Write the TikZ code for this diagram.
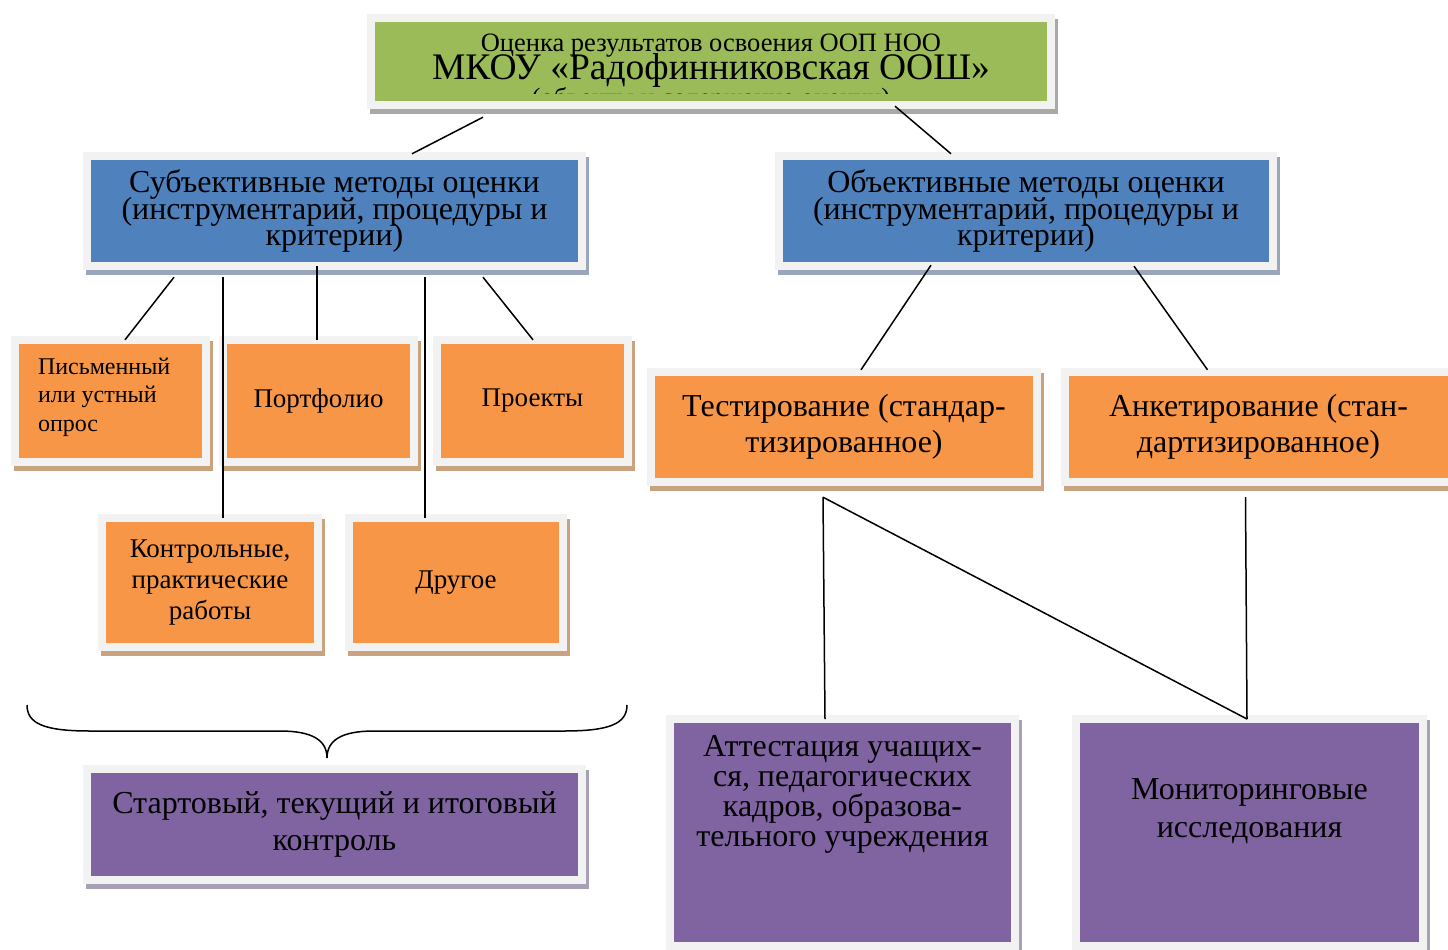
\documentclass[tikz,border=0pt]{standalone}
\usepackage{fontspec}
\setmainfont{Liberation Serif}

\definecolor{greenfill}{HTML}{9BBB59}
\definecolor{bluefill}{HTML}{4F81BD}
\definecolor{orangefill}{HTML}{F79646}
\definecolor{purplefill}{HTML}{8064A2}
\definecolor{framegray}{HTML}{F2F2F2}
\definecolor{greyshadow}{HTML}{A9AAA6}
\definecolor{blueshadow}{HTML}{9AA6BC}
\definecolor{orangeshadow}{HTML}{C9A27F}
\definecolor{purpleshadow}{HTML}{A8A0B4}

\newcommand\tightlines{\lineskiplimit=-100pt\relax}

\tikzset{
  panel/.style={rectangle, inner sep=0pt, align=center, text=black,
    preaction={fill=#1, draw=#1, line width=16pt, transform canvas={shift={(3pt,-5pt)}}},
    preaction={draw=framegray, line width=16pt}},
  greenbox/.style={panel=greyshadow, fill=greenfill},
  bluebox/.style={panel=blueshadow, fill=bluefill, minimum width=487pt, minimum height=102pt,
    font=\fontsize{32}{26.5}\selectfont\tightlines},
  orangebox/.style={panel=orangeshadow, fill=orangefill},
  purplebox/.style={panel=purpleshadow, fill=purplefill},
  smalltext/.style={font=\fontsize{27}{31}\selectfont},
  bigtext/.style={font=\fontsize{32}{36}\selectfont},
  link/.style={draw=black, line width=1.5pt}
}

\begin{document}
\begin{tikzpicture}[x=1pt,y=-1pt]

\useasboundingbox (0,0) rectangle (1448,950);

% top
\node[greenbox, minimum width=672pt, minimum height=79pt] (top) at (711,61.5) {};
\node[anchor=base, font=\fontsize{26.5}{26.5}\selectfont] (toptitle) at (711,52) {Оценка результатов освоения ООП НОО};
\node[anchor=base, font=\fontsize{37.5}{37.5}\selectfont] (topschool) at (711,80) {МКОУ «Радофинниковская ООШ»};
\begin{scope}
\clip (375,82) rectangle (1047,93);
\node[anchor=base, font=\fontsize{26.5}{26.5}\selectfont] (topsub) at (711,106) {(объекты и содержание оценки)};
\end{scope}

% methods
\node[bluebox] (subj) at (334.5,211) {Субъективные методы оценки\\(инструментарий, процедуры и\\критерии)};
\node[bluebox, minimum width=486pt] (obj) at (1026,211) {Объективные методы оценки\\(инструментарий, процедуры и\\критерии)};

% subjective tools
\node[orangebox, minimum width=183pt, minimum height=114pt] (pism) at (110.5,401) {};
\node[anchor=north west, inner sep=0pt, font=\fontsize{24}{28.5}\selectfont, align=left] (pismtext) at ([xshift=19pt,yshift=-14pt]pism.north west) {Письменный\\или устный\\опрос};
\node[orangebox, smalltext, minimum width=183pt, minimum height=114pt] (portf) at (318.5,401) {Портфолио};
\node[orangebox, smalltext, minimum width=183pt, minimum height=114pt] (proj) at (532.5,401) {Проекты};
\node[orangebox, smalltext, minimum width=208pt, minimum height=121pt] (kontr) at (210,582.5) {Контрольные,\\практические\\работы};
\node[orangebox, smalltext, minimum width=206pt, minimum height=121pt] (drug) at (456,582.5) {Другое};

% objective tools
\node[orangebox, bigtext, minimum width=378pt, minimum height=102pt] (test) at (844,426.5) {Тестирование (стандар-\\тизированное)};
\node[orangebox, bigtext, minimum width=379pt, minimum height=102pt] (anket) at (1258.5,426.5) {Анкетирование (стан-\\дартизированное)};

% results
\node[purplebox, minimum width=337pt, minimum height=219pt, anchor=north] (att) at (842.5,723) {};
\node[anchor=north, inner sep=0pt, font=\fontsize{32}{30}\selectfont, align=center] (atttext) at ([yshift=-12pt]att.north) {Аттестация учащих-\\ся, педагогических\\кадров, образова-\\тельного учреждения};
\node[purplebox, minimum width=339pt, minimum height=219pt, anchor=north] (monit) at (1249.5,723) {};
\node[anchor=north, inner sep=0pt, font=\fontsize{32}{38}\selectfont, align=center] (monittext) at ([yshift=-55pt]monit.north) {Мониторинговые\\исследования};
\node[purplebox, font=\fontsize{32}{37}\selectfont, minimum width=487pt, minimum height=103pt] (start) at (334.5,824.5) {Стартовый, текущий и итоговый\\контроль};

% connectors
\draw[link] ([xshift=-228pt,yshift=-16pt]top.south) -- ([xshift=77.5pt,yshift=6pt]subj.north);
\draw[link] ([xshift=184pt,yshift=-5pt]top.south) -- ([xshift=-75pt,yshift=6pt]obj.north);

\draw[link] ([xshift=-160.5pt,yshift=-15pt]subj.south) -- ([xshift=14.5pt,yshift=4pt]pism.north);
\draw[link] ([xshift=-111.5pt,yshift=-15pt]subj.south) -- ([xshift=13pt,yshift=4pt]kontr.north);
\draw[link] ([xshift=-17.5pt,yshift=-4pt]subj.south) -- ([xshift=-1.5pt,yshift=4pt]portf.north);
\draw[link] ([xshift=90.5pt,yshift=-15pt]subj.south) -- ([xshift=-31pt,yshift=4pt]drug.north);
\draw[link] ([xshift=148.5pt,yshift=-15pt]subj.south) -- ([xshift=0.5pt,yshift=4pt]proj.north);

\draw[link] ([xshift=-95pt,yshift=-3pt]obj.south) -- ([xshift=17pt,yshift=5.5pt]test.north);
\draw[link] ([xshift=108pt,yshift=-4pt]obj.south) -- ([xshift=-51pt,yshift=5.5pt]anket.north);

\coordinate (testfoot) at ([xshift=-21pt,yshift=-19.5pt]test.south);
\draw[link] (testfoot) -- ([xshift=-17.5pt,yshift=4pt]att.north);
\draw[link] (testfoot) -- ([xshift=-2.5pt,yshift=4pt]monit.north);
\draw[link] ([xshift=-13pt,yshift=-19.5pt]anket.south) -- ([xshift=-2.5pt,yshift=4pt]monit.north);

% brace over the subjective side
\draw[link] (27,705) .. controls (27,724) and (45,731) .. (90,731) -- (280,731)
  .. controls (312,731) and (327,740) .. (327,758)
  .. controls (327,740) and (342,731) .. (374,731) -- (564,731)
  .. controls (609,731) and (627,724) .. (627,705);

\end{tikzpicture}
\end{document}
